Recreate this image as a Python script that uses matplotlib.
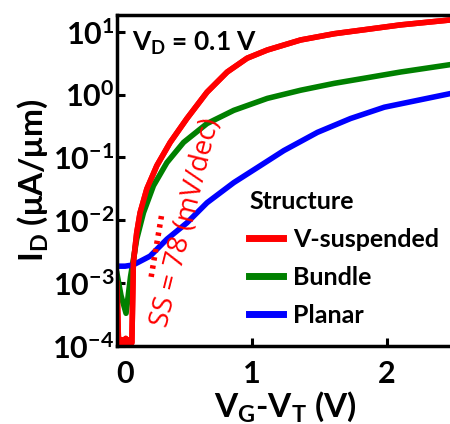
import matplotlib
matplotlib.use("Agg")
import matplotlib.pyplot as plt
import matplotlib.transforms as mtransforms
import numpy as np

plt.rcParams['font.family'] = ['Lato', 'DejaVu Sans']
plt.rcParams['font.weight'] = 'bold'
plt.rcParams['axes.labelweight'] = 'bold'
plt.rcParams['mathtext.fontset'] = 'custom'
plt.rcParams['mathtext.rm'] = 'Lato:bold'
plt.rcParams['mathtext.it'] = 'Lato:bold'
plt.rcParams['mathtext.bf'] = 'Lato:bold'
plt.rcParams['mathtext.default'] = 'rm'

# V_G - V_T (V) and log10(I_D)
vsus_x = [0.0, 0.01, 0.02, 0.035, 0.05, 0.065, 0.08, 0.095, 0.11, 0.121, 0.146, 0.171, 0.221,
          0.295, 0.394, 0.518, 0.667, 0.816, 0.964, 1.113, 1.36, 1.61, 1.856, 2.10, 2.476]
vsus_logy = [-3.0, -3.85, -3.95, -3.9, -3.97, -3.88, -3.96, -3.9, -3.95, -2.68, -2.20, -1.88,
             -1.50, -1.13, -0.76, -0.38, 0.04, 0.36, 0.58, 0.71, 0.87, 0.97, 1.04, 1.11, 1.19]

bundle_x = [0.0, 0.03, 0.067, 0.10, 0.146, 0.196, 0.27, 0.37, 0.493, 0.667, 0.865,
            1.113, 1.36, 1.61, 1.856, 2.10, 2.476]
bundle_logy = [-2.85, -3.2, -3.48, -2.9, -2.30, -1.88, -1.45, -1.08, -0.76, -0.46, -0.25,
               -0.06, 0.07, 0.18, 0.27, 0.36, 0.48]

planar_x = [0.0, 0.06, 0.12, 0.245, 0.37, 0.518, 0.667, 0.865, 1.04, 1.236, 1.485,
            1.73, 1.98, 2.228, 2.476]
planar_logy = [-2.73, -2.73, -2.71, -2.57, -2.30, -2.04, -1.72, -1.40, -1.16, -0.89, -0.60,
               -0.38, -0.20, -0.09, 0.02]

ss_x = [0.253, 0.335]
ss_logy = [-2.9, -1.86]

fig = plt.figure(figsize=(4.5, 4.24), dpi=100)
ax = fig.add_axes([0.26, 0.184, 0.75, 0.781])

ax.plot(vsus_x, 10 ** np.array(vsus_logy), color='#ff0000', lw=4, label='V-suspended',
        solid_joinstyle='round')
ax.plot(bundle_x, 10 ** np.array(bundle_logy), color='#008000', lw=4, label='Bundle',
        solid_joinstyle='round')
ax.plot(planar_x, 10 ** np.array(planar_logy), color='#0000ff', lw=4, label='Planar',
        solid_joinstyle='round')
# redraw red on top
ax.plot(vsus_x, 10 ** np.array(vsus_logy), color='#ff0000', lw=4, solid_joinstyle='round')

ax.plot(ss_x, 10 ** np.array(ss_logy), color='#ff0000', lw=4, linestyle=(0, (0.6, 0.9)))
ax.text(0.509, 10 ** -2.04, 'SS = 78 (mV/dec)', color='#ff0000', fontsize=20,
        family=['Open Sans', 'DejaVu Sans'], fontweight='normal', fontstyle='normal',
        rotation=76, ha='center', va='center')

ax.text(0.045, 0.915, r'V$_{\mathregular{D}}$ = 0.1 V', transform=ax.transAxes,
        fontsize=19, ha='left', va='center')

ax.set_yscale('log')
ax.set_xlim(0, 2.5)
ax.set_ylim(1e-4, 10 ** 1.27)
ax.set_xticks([0, 1, 2])
ax.set_yticks([1e-4, 1e-3, 1e-2, 1e-1, 1, 10])
ax.set_yticklabels([r'$10^{-4}$', r'$10^{-3}$', r'$10^{-2}$', r'$10^{-1}$',
                    r'$10^{0}$', r'$10^{1}$'])
ax.minorticks_off()
ax.tick_params(axis='both', direction='in', length=6, width=2.2, labelsize=22)
ax.tick_params(axis='y', pad=2)
ax.tick_params(axis='x', pad=10)
for s in ax.spines.values():
    s.set_linewidth(2.5)

lab0 = ax.get_xticklabels()[0]
lab0.set_transform(lab0.get_transform() + mtransforms.ScaledTranslation(0.08, 0, fig.dpi_scale_trans))

ax.set_ylabel(r'I$_{\mathregular{D}}$ ($\mu$A/$\mu$m)', fontsize=24, labelpad=2)
ax.set_xlabel(r'V$_{\mathregular{G}}$-V$_{\mathregular{T}}$ (V)', fontsize=24, labelpad=1)

leg = ax.legend(title='Structure', loc='upper left', bbox_to_anchor=(0.355, 0.51),
                frameon=False, fontsize=18, title_fontsize=18, handlelength=1.36,
                handletextpad=0.4, labelspacing=0.6, borderpad=0, alignment='left')
for h in leg.get_lines():
    h.set_linewidth(5)
leg.get_title().set_fontweight('bold')

fig.savefig('out.png', dpi=100)
